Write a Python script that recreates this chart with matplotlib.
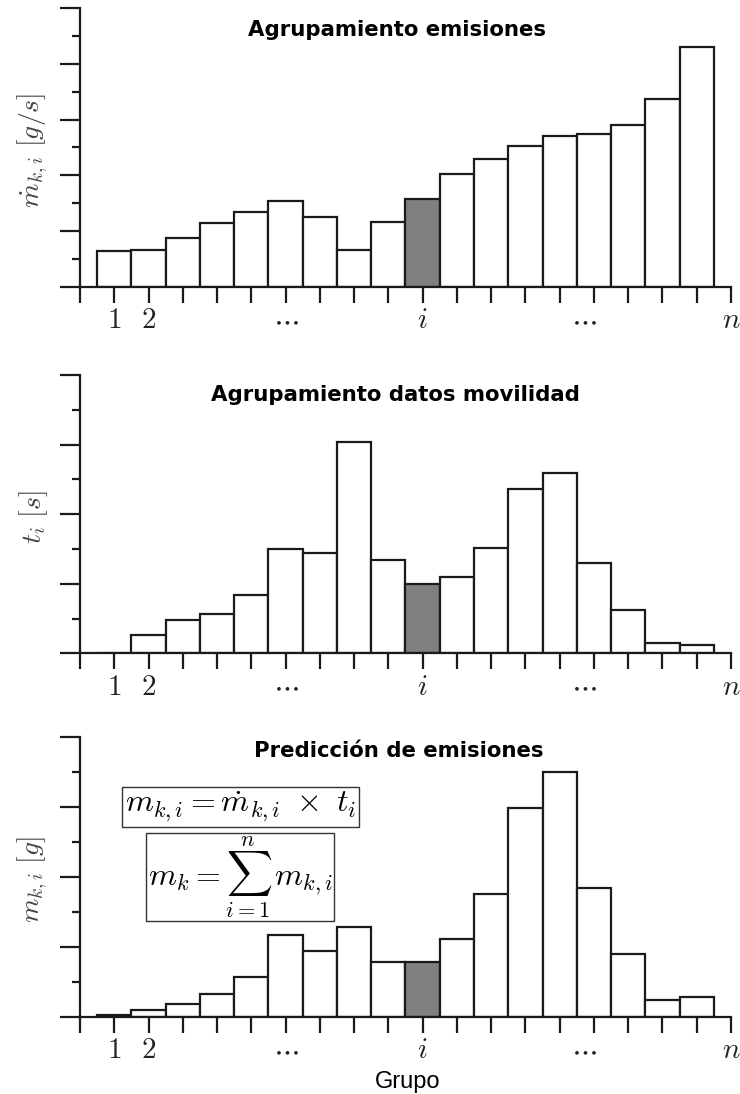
import numpy as np
import matplotlib
matplotlib.use("Agg")
import matplotlib.pyplot as plt
from matplotlib.ticker import MultipleLocator

plt.rcParams['mathtext.fontset'] = 'cm'

# datos (unidades de las marcas menores)
grupos = np.arange(1, 19)
emisiones = [1.28, 1.34, 1.76, 2.29, 2.69, 3.09, 2.51, 1.32, 2.33, 3.17,
             4.06, 4.60, 5.07, 5.40, 5.47, 5.79, 6.74, 8.60]
tiempos = [0.02, 0.53, 0.96, 1.13, 1.67, 2.99, 2.89, 6.08, 2.67, 1.99,
           2.18, 3.02, 4.72, 5.17, 2.59, 1.26, 0.29, 0.24]
prediccion = [0.05, 0.19, 0.36, 0.65, 1.13, 2.34, 1.89, 2.56, 1.56, 1.55,
              2.22, 3.51, 5.97, 6.99, 3.68, 1.79, 0.48, 0.55]
grupo_i = 10

tick_pos = [1, 2, 6, 10, 14.7, 19]
tick_txt = ['$1$', '$2$', r'$\cdots$', '$i$', r'$\cdots$', '$n$']

paneles = [
    (emisiones, 10, r'$\dot{m}_{k,i}\ [g/s]$', 'Agrupamiento emisiones',
     [0.1081, 0.7377, 0.8797, 0.2550], (0.487, 0.921)),
    (tiempos, 8, r'$t_i\ [s]$', 'Agrupamiento datos movilidad',
     [0.1081, 0.4028, 0.8797, 0.2544], (0.485, 0.928)),
    (prediccion, 8, r'$m_{k,i}\ [g]$', 'Predicción de emisiones',
     [0.1081, 0.0707, 0.8797, 0.2556], (0.490, 0.950)),
]

fig = plt.figure(figsize=(7.4, 10.94), dpi=100)

axes = []
for valores, ymax, ylab, titulo, rect, tpos in paneles:
    ax = fig.add_axes(rect)
    colores = ['#808080' if g == grupo_i else 'white' for g in grupos]
    ax.bar(grupos, valores, width=1.0, color=colores, edgecolor='#1a1a1a',
           linewidth=1.6, zorder=2)
    ax.set_xlim(0, 19)
    ax.set_ylim(0, ymax)
    for s in ['top', 'right']:
        ax.spines[s].set_visible(False)
    for s in ['left', 'bottom']:
        ax.spines[s].set_linewidth(1.6)
        ax.spines[s].set_color('#1a1a1a')

    # eje x: marcas en cada grupo, etiquetas solo en algunos
    ax.set_xticks(np.arange(0, 20))
    ax.set_xticklabels([])
    ax.tick_params(axis='x', which='major', direction='out', length=11.5,
                   width=1.6, color='#1a1a1a')
    for p, t in zip(tick_pos, tick_txt):
        ax.text(p, -0.12, t, transform=ax.get_xaxis_transform(),
                ha='center', va='center', fontsize=21, color='#222222')

    # eje y sin numeros
    ax.yaxis.set_major_locator(MultipleLocator(2))
    ax.yaxis.set_minor_locator(MultipleLocator(1))
    ax.set_yticklabels([])
    ax.tick_params(axis='y', which='major', direction='out', length=14.4,
                   width=1.6, color='#1a1a1a')
    ax.tick_params(axis='y', which='minor', direction='out', length=5.8,
                   width=1.6, color='#1a1a1a')

    ax.set_ylabel(ylab, fontsize=20, color='#444444')
    ax.yaxis.set_label_coords(-0.046, 0.49)

    ax.text(tpos[0], tpos[1], titulo, transform=ax.transAxes, ha='center',
            va='center', fontsize=15.3, fontweight='bold',
            family='DejaVu Sans')
    axes.append(ax)

ax3 = axes[2]
ax3.text(0.503, -0.255, 'Grupo', transform=ax3.transAxes, ha='center',
         va='baseline', fontsize=17, family='Liberation Sans')

caja1 = dict(boxstyle='square,pad=0.1', facecolor='white',
             edgecolor='#333333', linewidth=1.0)
caja2 = dict(boxstyle='square,pad=0.04', facecolor='white',
             edgecolor='#333333', linewidth=1.0)
ax3.text(0.2465, 0.75, r'$m_{k,i} = \dot{m}_{k,i}\ \times\ t_i$',
         transform=ax3.transAxes, ha='center', va='center', fontsize=23,
         bbox=caja1)
ax3.text(0.246, 0.50, r'$m_k = \sum_{i=1}^{n}\, m_{k,i}$',
         transform=ax3.transAxes, ha='center', va='center', fontsize=23,
         bbox=caja2)

fig.savefig('out.png', dpi=100)
